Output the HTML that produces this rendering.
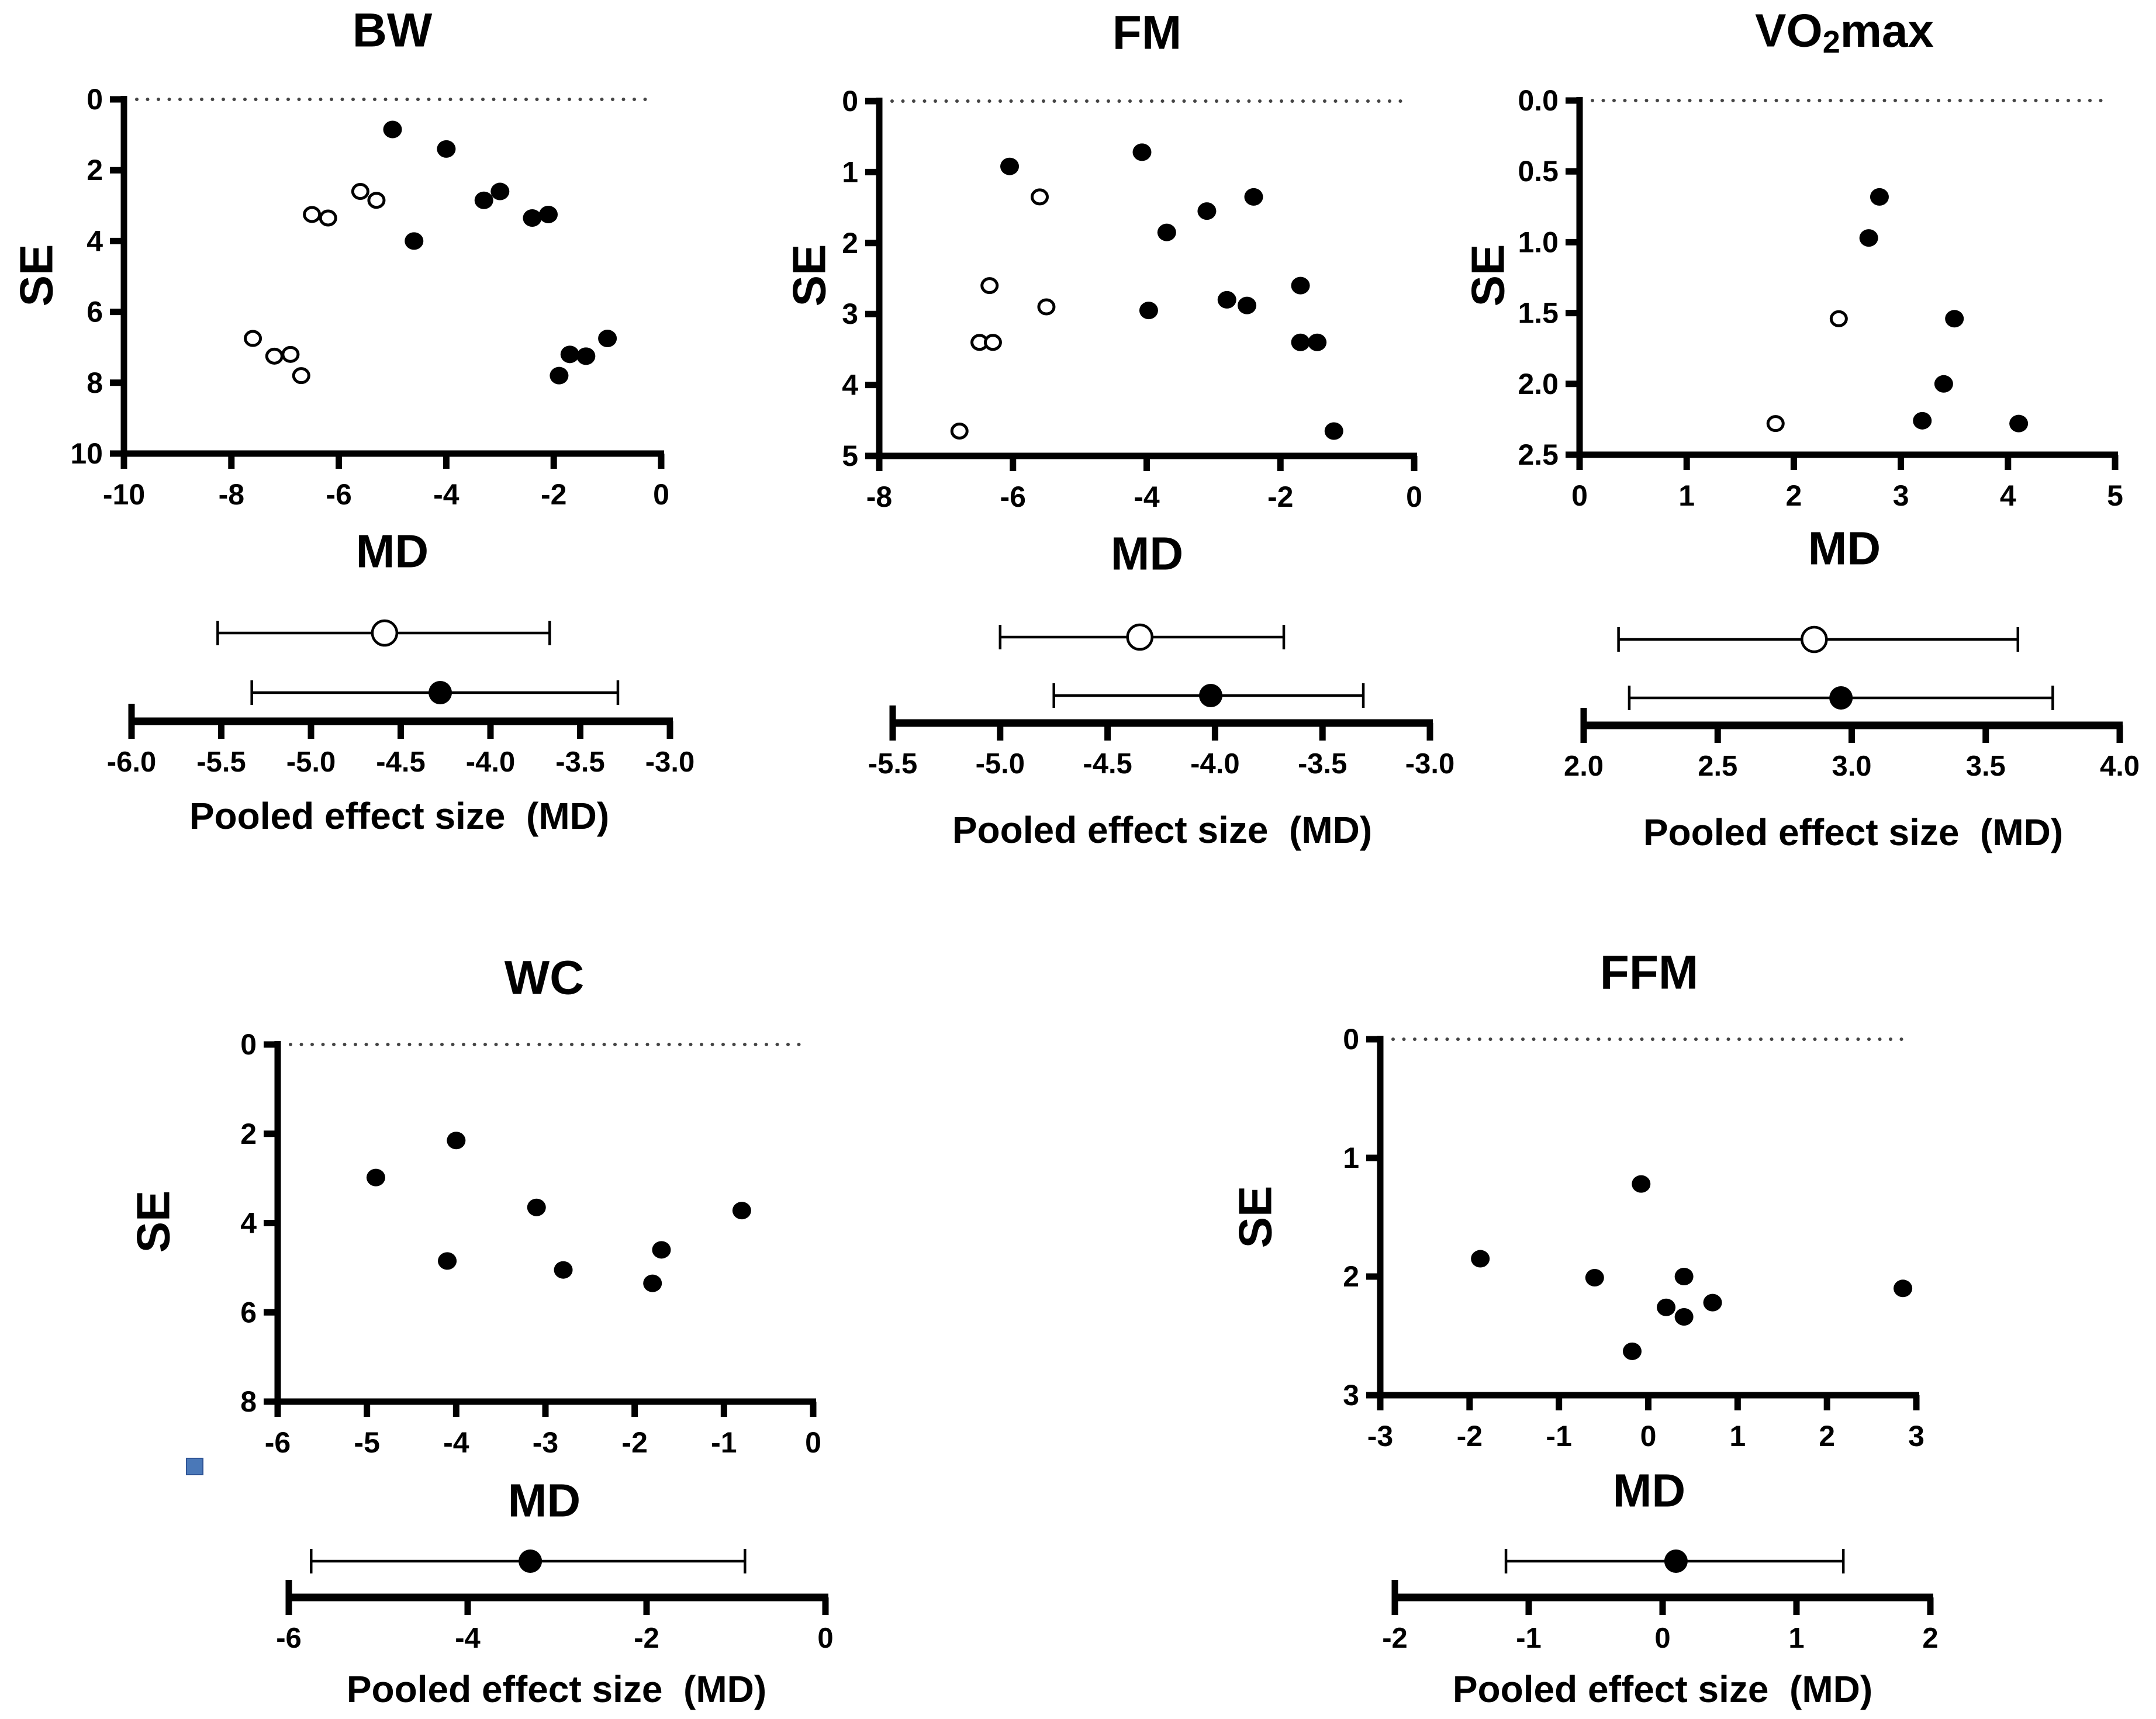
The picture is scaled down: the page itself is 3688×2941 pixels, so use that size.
<!DOCTYPE html>
<html><head><meta charset="utf-8"><style>
html,body{margin:0;padding:0;background:#fff;}
svg{display:block;}
text{font-family:"Liberation Sans",Arial,sans-serif;font-weight:bold;fill:#000;white-space:pre;}
</style></head><body>
<svg id="fig" xmlns="http://www.w3.org/2000/svg" width="3688" height="2941" viewBox="0 0 3688 2941">
<rect x="0" y="0" width="3688" height="2941" fill="#fff"/>
<rect x="319" y="2495" width="28" height="28" fill="#4a78b8" stroke="#2f5597" stroke-width="2"/>
</svg>
<script>
// ---------- DATA ----------
const bwOpenMD = [-5.6,-5.3,-6.5,-6.2,-7.6,-7.2,-6.9,-6.7];
const bwOpenSE = [2.6,2.85,3.25,3.35,6.75,7.25,7.2,7.8];
const bwFillMD = [-5,-4,-3.3,-3,-2.4,-2.1,-4.6,-1,-1.7,-1.4,-1.9];
const bwFillSE = [0.85,1.4,2.85,2.6,3.35,3.25,4,6.75,7.2,7.25,7.8];
const bwXTicks = [-10,-8,-6,-4,-2,0];
const bwYTicks = [0,2,4,6,8,10];
const bwPoolTicks = ["-6.0","-5.5","-5.0","-4.5","-4.0","-3.5","-3.0"];
const bwPooledOpen = [-5.52,-4.59,-3.67];
const bwPooledFill = [-5.33,-4.28,-3.29];

const fmOpenMD = [-5.6,-6.35,-5.5,-6.5,-6.3,-6.8];
const fmOpenSE = [1.35,2.6,2.9,3.4,3.4,4.65];
const fmFillMD = [-6.05,-4.07,-3.1,-2.4,-3.7,-3.97,-2.8,-2.5,-1.7,-1.7,-1.45,-1.2];
const fmFillSE = [0.92,0.72,1.55,1.35,1.85,2.95,2.8,2.88,2.6,3.4,3.4,4.65];
const fmXTicks = [-8,-6,-4,-2,0];
const fmYTicks = [0,1,2,3,4,5];
const fmPoolTicks = ["-5.5","-5.0","-4.5","-4.0","-3.5","-3.0"];
const fmPooledOpen = [-5.0,-4.35,-3.68];
const fmPooledFill = [-4.75,-4.02,-3.31];

const voOpenMD = [2.42,1.83];
const voOpenSE = [1.54,2.28];
const voFillMD = [2.8,2.7,3.5,3.4,3.2,4.1];
const voFillSE = [0.68,0.97,1.54,2.0,2.26,2.28];
const voXTicks = [0,1,2,3,4,5];
const voYTicks = ["0.0","0.5","1.0","1.5","2.0","2.5"];
const voPoolTicks = ["2.0","2.5","3.0","3.5","4.0"];
const voPooledOpen = [2.13,2.86,3.62];
const voPooledFill = [2.17,2.96,3.75];

const wcFillMD = [-4.9,-4.0,-3.1,-4.1,-2.8,-1.7,-1.8,-0.8];
const wcFillSE = [2.98,2.15,3.65,4.85,5.05,4.6,5.35,3.72];
const wcXTicks = [-6,-5,-4,-3,-2,-1,0];
const wcYTicks = [0,2,4,6,8];
const wcPoolTicks = ["-6","-4","-2","0"];
const wcPooledFill = [-5.75,-3.3,-0.9];

const ffmFillMD = [-0.08,-1.88,-0.6,0.4,0.2,0.4,0.72,-0.18,2.85];
const ffmFillSE = [1.22,1.85,2.01,2.0,2.26,2.34,2.22,2.63,2.1];
const ffmXTicks = [-3,-2,-1,0,1,2,3];
const ffmYTicks = [0,1,2,3];
const ffmPoolTicks = ["-2","-1","0","1","2"];
const ffmPooledFill = [-1.17,0.1,1.35];

// ---------- DRAW ----------
const NS = "http://www.w3.org/2000/svg";
const svg = document.getElementById('fig');
function mk(tag, attrs, parent){
  const e = document.createElementNS(NS, tag);
  for (const k in attrs) e.setAttribute(k, attrs[k]);
  (parent||svg).appendChild(e);
  return e;
}
function txt(parent, x, y, s, size, anchor, name){
  const t = mk('text', {x:x, y:y, 'font-size':size, 'text-anchor':anchor||'middle', 'dominant-baseline':'central'}, parent);
  
  
  t.textContent = s;
  return t;
}

function panel(cfg){
  const g = mk('g', {});
  
  
  const xMin = +cfg.xTicks[0], xMax = +cfg.xTicks[cfg.xTicks.length-1];
  const yMin = +cfg.yTicks[0], yMax = +cfg.yTicks[cfg.yTicks.length-1];
  const sx = v => cfg.ax + (v - xMin) / (xMax - xMin) * (cfg.bx - cfg.ax);
  const sy = v => cfg.ty + (v - yMin) / (yMax - yMin) * (cfg.by - cfg.ty);
  if (cfg.titleSub){
    const t = mk('text', {x:cfg.titleX, y:cfg.titleY, 'font-size':80, 'text-anchor':'middle', 'dominant-baseline':'central'}, g);
    
    
    t.innerHTML = 'VO<tspan font-size="54" dy="20">2</tspan><tspan dy="-20">max</tspan>';
  } else {
    txt(g, cfg.titleX, cfg.titleY, cfg.title, 82, 'middle', 'chart-title');
  }
  const dl = mk('line', {x1:cfg.ax+22, y1:cfg.ty, x2:cfg.dotEnd, y2:cfg.ty, stroke:'#444', 'stroke-width':6, 'stroke-dasharray':'0 18.5', 'stroke-linecap':'round'}, g);
  
  
  const ya = mk('line', {x1:cfg.ax, y1:cfg.ty-6, x2:cfg.ax, y2:cfg.by+6, stroke:'#000', 'stroke-width':11}, g);
  
  
  const xa = mk('line', {x1:cfg.ax, y1:cfg.by, x2:cfg.bx+5, y2:cfg.by, stroke:'#000', 'stroke-width':11}, g);
  
  
  cfg.yTicks.forEach(v => {
    const y = sy(+v);
    const tk = mk('line', {x1:cfg.ax-24, y1:y, x2:cfg.ax, y2:y, stroke:'#000', 'stroke-width':11}, g);
    
    
    txt(g, cfg.ax-36, y, String(v), 50, 'end', 'y-tick-label');
  });
  cfg.xTicks.forEach(v => {
    const x = sx(+v);
    const tk = mk('line', {x1:x, y1:cfg.by, x2:x, y2:cfg.by+26, stroke:'#000', 'stroke-width':11}, g);
    
    
    txt(g, x, cfg.by+70, String(v), 50, 'middle', 'x-tick-label');
  });
  txt(g, cfg.titleX, cfg.mdY, 'MD', 80, 'middle', 'x-axis-title');
  const se = txt(g, cfg.seX, cfg.seY, 'SE', 80, 'middle', 'y-axis-title');
  se.setAttribute('transform', 'rotate(-90 ' + cfg.seX + ' ' + cfg.seY + ')');
  (cfg.openMD||[]).forEach((m,i) => {
    const c = mk('ellipse', {cx:sx(m), cy:sy(cfg.openSE[i]), rx:13, ry:12, fill:'#fff', stroke:'#000', 'stroke-width':5}, g);
    
    
  });
  cfg.fillMD.forEach((m,i) => {
    const c = mk('ellipse', {cx:sx(m), cy:sy(cfg.fillSE[i]), rx:16, ry:15, fill:'#000'}, g);
    
    
  });
  const pMin = +cfg.pTicks[0], pMax = +cfg.pTicks[cfg.pTicks.length-1];
  const px = v => cfg.pax + (v - pMin) / (pMax - pMin) * (cfg.pbx - cfg.pax);
  const pa = mk('line', {x1:cfg.pax-5, y1:cfg.py, x2:cfg.pbx+5, y2:cfg.py, stroke:'#000', 'stroke-width':13}, g);
  
  
  cfg.pTicks.forEach((v,i) => {
    const x = px(+v);
    const tk = mk('line', {x1:x, y1:cfg.py-(i==0?30:0), x2:x, y2:cfg.py+30, stroke:'#000', 'stroke-width':11}, g);
    
    
    txt(g, x, cfg.py+70, v, 49, 'middle', 'pooled-tick-label');
  });
  txt(g, cfg.poolLabelX, cfg.poolLabelY, 'Pooled effect size  (MD)', 64, 'middle', 'pooled-axis-title');
  function ci(vals, y, open, name){
    const l = mk('line', {x1:px(vals[0]), y1:y, x2:px(vals[2]), y2:y, stroke:'#000', 'stroke-width':4.5}, g);
    
    
    [vals[0], vals[2]].forEach(v => {
      const c = mk('line', {x1:px(v), y1:y-21, x2:px(v), y2:y+21, stroke:'#000', 'stroke-width':4.5}, g);
      
      
    });
    const p = mk('circle', {cx:px(vals[1]), cy:y, r: open?21:20, fill: open?'#fff':'#000', stroke:'#000', 'stroke-width': open?4.5:0}, g);
    
    
  }
  if (cfg.pOpen) ci(cfg.pOpen, cfg.rowOpen, true, 'pooled-open');
  ci(cfg.pFill, cfg.rowFill, false, 'pooled-filled');
}

panel({name:'bw', title:'BW', titleX:671, titleY:52, ax:212, bx:1131, ty:170, by:776, dotEnd:1117,
  xTicks:bwXTicks, yTicks:bwYTicks, openMD:bwOpenMD, openSE:bwOpenSE, fillMD:bwFillMD, fillSE:bwFillSE,
  mdY:943, seX:62, seY:471, pTicks:bwPoolTicks, pax:225, pbx:1146, py:1234, rowOpen:1083, rowFill:1185,
  pOpen:bwPooledOpen, pFill:bwPooledFill, poolLabelX:683, poolLabelY:1396});
panel({name:'fm', title:'FM', titleX:1962, titleY:56, ax:1504, bx:2419, ty:173, by:780, dotEnd:2408,
  xTicks:fmXTicks, yTicks:fmYTicks, openMD:fmOpenMD, openSE:fmOpenSE, fillMD:fmFillMD, fillSE:fmFillSE,
  mdY:947, seX:1384, seY:471, pTicks:fmPoolTicks, pax:1527, pbx:2446, py:1237, rowOpen:1090, rowFill:1190,
  pOpen:fmPooledOpen, pFill:fmPooledFill, poolLabelX:1988, poolLabelY:1420});
panel({name:'vo2max', titleSub:true, titleX:3155, titleY:52, ax:2702, bx:3618, ty:172, by:778, dotEnd:3605,
  xTicks:voXTicks, yTicks:voYTicks, openMD:voOpenMD, openSE:voOpenSE, fillMD:voFillMD, fillSE:voFillSE,
  mdY:938, seX:2545, seY:471, pTicks:voPoolTicks, pax:2709, pbx:3626, py:1241, rowOpen:1094, rowFill:1194,
  pOpen:voPooledOpen, pFill:voPooledFill, poolLabelX:3170, poolLabelY:1424});
panel({name:'wc', title:'WC', titleX:931, titleY:1673, ax:475, bx:1391, ty:1787, by:2398, dotEnd:1380,
  xTicks:wcXTicks, yTicks:wcYTicks, fillMD:wcFillMD, fillSE:wcFillSE,
  mdY:2567, seX:262, seY:2090, pTicks:wcPoolTicks, pax:494, pbx:1412, py:2733, rowFill:2671,
  pFill:wcPooledFill, poolLabelX:952, poolLabelY:2890});
panel({name:'ffm', title:'FFM', titleX:2821, titleY:1664, ax:2361, bx:3278, ty:1778, by:2387, dotEnd:3265,
  xTicks:ffmXTicks, yTicks:ffmYTicks, fillMD:ffmFillMD, fillSE:ffmFillSE,
  mdY:2550, seX:2147, seY:2082, pTicks:ffmPoolTicks, pax:2386, pbx:3302, py:2733, rowFill:2671,
  pFill:ffmPooledFill, poolLabelX:2844, poolLabelY:2890});
</script>
</body></html>
